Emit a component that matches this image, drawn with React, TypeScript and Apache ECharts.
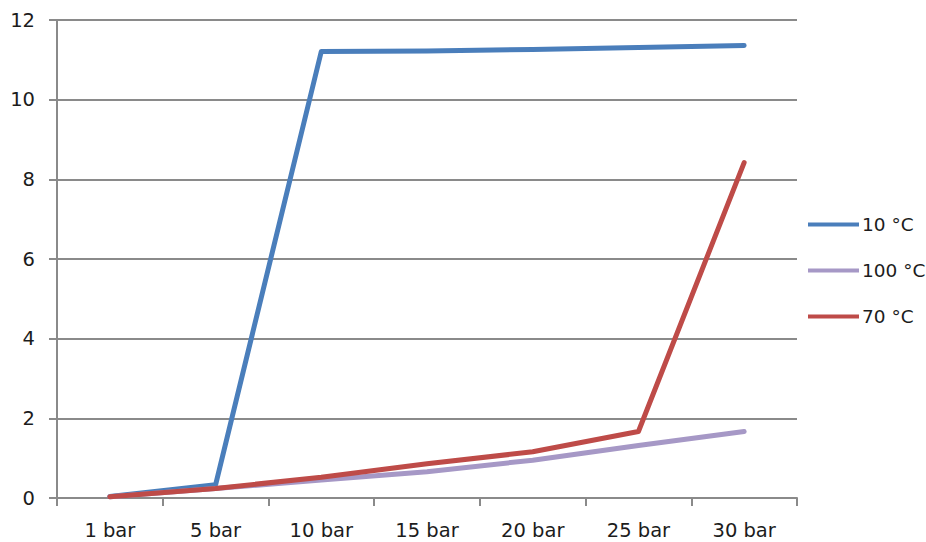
import React, { useEffect, useRef } from "react";
import * as echarts from "echarts";

const categories = ["1 bar", "5 bar", "10 bar", "15 bar", "20 bar", "25 bar", "30 bar"];
const seriesNames = ["10 °C", "100 °C", "70 °C"];
const values10 = [0.04, 0.33, 11.21, 11.22, 11.26, 11.31, 11.36];
const values100 = [0.03, 0.24, 0.45, 0.66, 0.95, 1.32, 1.67];
const values70 = [0.03, 0.24, 0.52, 0.86, 1.16, 1.67, 8.42];
const colors = ["#4A7EBB", "#A698C6", "#BE4B48"];

const FONT = "DejaVu Sans";

export default function App() {
  const ref = useRef<HTMLDivElement>(null);

  useEffect(() => {
    if (!ref.current) return;
    const chart = echarts.init(ref.current, null, { renderer: "svg" });
    const data = [values10, values100, values70];
    chart.setOption({
      animation: false,
      backgroundColor: "#ffffff",
      grid: { left: 57, right: 129, top: 20, bottom: 44, containLabel: false },
      legend: {
        orient: "vertical",
        left: 803,
        top: 210,
        itemWidth: 51,
        itemHeight: 4,
        itemGap: 27,
        icon: "rect",
        textStyle: { fontFamily: FONT, fontSize: 18.5, color: "#1c1c1c", padding: [0, 0, 0, -2] },
        data: seriesNames,
      },
      xAxis: {
        type: "category",
        data: categories,
        boundaryGap: true,
        axisLine: { lineStyle: { color: "#8a8a8a", width: 2 } },
        axisTick: { show: true, length: 8, inside: false, lineStyle: { color: "#8a8a8a", width: 2 } },
        axisLabel: { fontFamily: FONT, fontSize: 19.5, color: "#1c1c1c", margin: 22 },
        splitLine: { show: false },
      },
      yAxis: {
        type: "value",
        min: 0,
        max: 12,
        interval: 2,
        axisLine: { show: true, lineStyle: { color: "#8a8a8a", width: 2 } },
        axisTick: { show: true, length: 8, lineStyle: { color: "#8a8a8a", width: 2 } },
        axisLabel: { fontFamily: FONT, fontSize: 19.5, color: "#1c1c1c", margin: 22 },
        splitLine: { show: true, lineStyle: { color: "#8a8a8a", width: 2 } },
      },
      series: seriesNames.map((name, i) => ({
        name,
        type: "line",
        data: data[i],
        showSymbol: false,
        symbol: "none",
        color: colors[i],
        lineStyle: { color: colors[i], width: 5, cap: "round", join: "round" },
        itemStyle: { color: colors[i] },
      })),
    });
    return () => chart.dispose();
  }, []);

  return <div ref={ref} style={{ width: 926, height: 542, position: "absolute", left: 0, top: 0 }} />;
}
